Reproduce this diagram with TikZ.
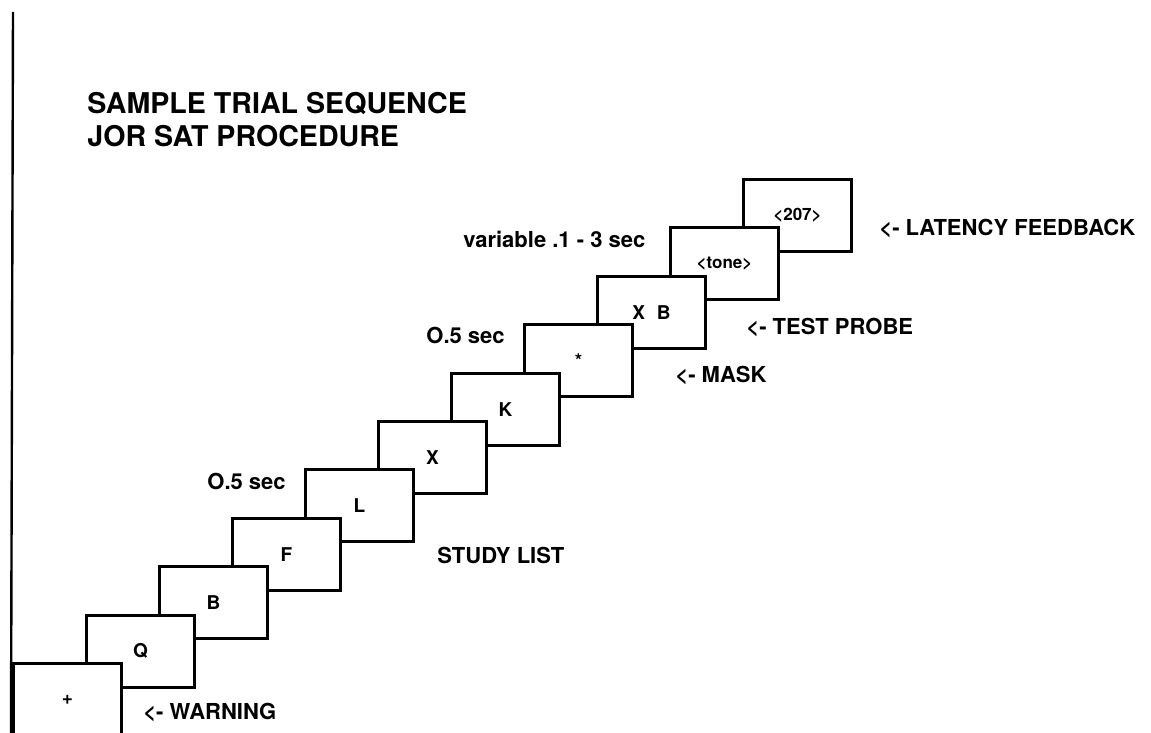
\documentclass[tikz,border=0pt]{standalone}
\usepackage{fontspec}
\setmainfont{TeX Gyre Heros}

\begin{document}
\begin{tikzpicture}[x=0.5pt, y=-0.5pt]
\tikzstyle{frame}=[draw, fill=white, line width=1.5pt, rectangle, anchor=north west, inner sep=0pt, minimum width=54pt, minimum height=36pt, font=\bfseries\fontsize{9.5}{11}\selectfont];
\tikzstyle{note}=[anchor=base west, inner sep=0pt, font=\bfseries\fontsize{11}{13}\selectfont];
\tikzstyle{title}=[anchor=base west, inner sep=0pt, font=\bfseries\fontsize{14.3}{17}\selectfont];
\useasboundingbox (0,0) rectangle (1151,733);
\clip (0,0) rectangle (1151,733);
\draw [line width=1.2pt] (13,12) -- (11,733);
\node [title] (head1) at (87,113) {SAMPLE TRIAL SEQUENCE};
\node [title] (head2) at (87,147) {JOR SAT PROCEDURE};
% later frames lie behind earlier ones
\foreach \i/\t in {10/{\fontsize{8.5}{10}\selectfont <207>}, 9/{\fontsize{8.5}{10}\selectfont <tone>}, 8/{X\hspace{6pt}B}, 7/*, 6/K, 5/X, 4/L, 3/F, 2/B, 1/Q, 0/+}
  \node [frame] (f\i) at ({12+73*\i}, {662-48.4*\i}) {\t};
\node [note] (warn) at (143,719) {<- WARNING};
\node [note] (study) at (437,563) {STUDY LIST};
\node [note] (gap1) at (207,489) {O.5 sec};
\node [note] (gap2) at (426,343) {O.5 sec};
\node [note] (mask) at (675,382) {<- MASK};
\node [note] (probe) at (746,334) {<- TEST PROBE};
\node [note] (vary) at (463,247) {variable .1 - 3 sec};
\node [note] (late) at (879,235) {<- LATENCY FEEDBACK};
\end{tikzpicture}
\end{document}
